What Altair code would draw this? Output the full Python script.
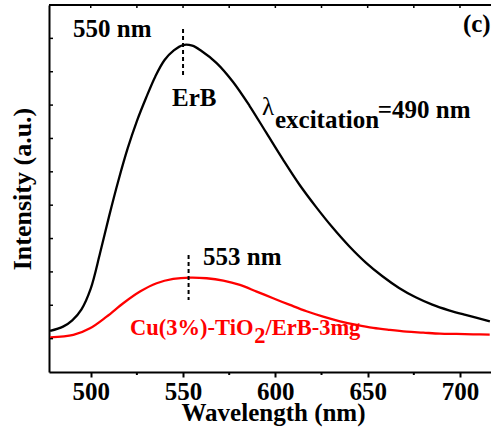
import altair as alt
import pandas as pd

FONT = "'Liberation Serif', 'Times New Roman', Times, 'DejaVu Serif', serif"

# ---- data ----
black_nm = [478, 485, 490, 495, 500, 505, 510, 515, 520, 525, 530, 535, 540, 545,
            550, 555, 560, 568.2, 577, 586, 595, 604, 613, 622, 631, 640, 649,
            658, 667, 676, 685, 694, 703, 716.2]
black_int = [1.23, 1.36, 1.55, 1.88, 2.50, 3.55, 4.68, 5.74, 6.70, 7.52, 8.22, 8.86,
             9.35, 9.64, 9.80, 9.78, 9.62, 9.26, 8.70, 7.98, 7.18, 6.38, 5.62, 4.95,
             4.33, 3.77, 3.28, 2.87, 2.52, 2.24, 2.02, 1.85, 1.71, 1.52]

red_nm = [478.0, 490.6, 499.6, 508.6, 517.6, 526.7, 535.7, 544.7, 553.7, 562.8,
          571.8, 580.8, 589.9, 598.8, 607.9, 616.9, 625.9, 635.0, 644.0, 653.0,
          662.0, 671.1, 680.1, 689.1, 698.1, 707.1, 716.1]
red_int = [1.04, 1.11, 1.31, 1.66, 2.06, 2.41, 2.66, 2.79, 2.83, 2.81,
           2.74, 2.61, 2.41, 2.21, 2.01, 1.82, 1.66, 1.52, 1.41, 1.32,
           1.26, 1.21, 1.18, 1.15, 1.14, 1.13, 1.12]

x_major = [500, 550, 600, 650, 700]
x_minor = [525, 575, 625, 675]
y_ticks = [1, 2, 3, 4, 5, 6, 7, 8, 9, 10]

peak_nm = [550, 553]
peak_top = [10.28, 3.51]
peak_bottom = [8.90, 2.16]

anno_text = ["550 nm", "ErB", "(c)", "=490 nm", "553 nm", "excitation"]
anno_nm = [490.4, 544.0, 701.6, 655.5, 560.8, 599.8]
anno_val = [10.04, 7.97, 10.19, 7.61, 3.21, 7.31]

red_text = ["Cu(3%)-TiO", "2", "/ErB-3mg"]
red_nm_pos = [521.3, 588.6, 594.6]
red_val = [1.11, 0.87, 1.11]

lambda_text = ["λ"]
lambda_nm = [592.7]
lambda_val = [7.70]

W, H = 442, 367
xs = alt.Scale(domain=[477.4, 716.8], nice=False, zero=False)
ys = alt.Scale(domain=[0, 11], nice=False, zero=False)

curves = pd.concat([
    pd.DataFrame({"nm": black_nm, "v": black_int, "s": "ErB"}),
    pd.DataFrame({"nm": red_nm, "v": red_int, "s": "Cu"}),
])

x_axis = alt.Axis(values=x_major, format="d", labelFont=FONT, labelFontSize=25,
                  labelFontWeight="bold", labelColor="black", labelPadding=2,
                  labelFlush=False, tickSize=5, tickWidth=2, tickColor="black",
                  domainColor="black", domainWidth=2, grid=False,
                  title="Wavelength (nm)", titleFont=FONT, titleFontSize=25,
                  titleFontWeight="bold", titleColor="black", titleX=224, titleY=48,
                  titleBaseline="alphabetic", titleAlign="center")
y_axis = alt.Axis(labels=False, ticks=False, domainColor="black", domainWidth=2,
                  grid=False, title="Intensity (a.u.)", titleFont=FONT,
                  titleFontSize=26, titleFontWeight="bold", titleColor="black",
                  titleX=-19, titleY=H / 2, titleAngle=270, titleAlign="center",
                  titleBaseline="alphabetic")

lines = alt.Chart(curves).mark_line(strokeWidth=2.3, interpolate="catmull-rom").encode(
    x=alt.X("nm:Q", scale=xs, axis=x_axis),
    y=alt.Y("v:Q", scale=ys, axis=y_axis),
    color=alt.Color("s:N", scale=alt.Scale(domain=["ErB", "Cu"], range=["black", "#ff0000"]), legend=None),
    detail="s:N",
)

top_line = alt.Chart(pd.DataFrame({"a": [0]})).mark_rule(color="black", strokeWidth=2).encode(
    x=alt.value(0), x2=alt.value(W), y=alt.value(0))

minor_bottom = alt.Chart(pd.DataFrame({"t": x_minor})).mark_rule(color="black", strokeWidth=2).encode(
    x=alt.X("t:Q", scale=xs), y=alt.value(H), y2=alt.value(H + 3))

top_ticks = alt.Chart(pd.DataFrame({"t": x_major + x_minor})).mark_rule(color="black", strokeWidth=1.5).encode(
    x=alt.X("t:Q", scale=xs), y=alt.value(0), y2=alt.value(3))

left_ticks = alt.Chart(pd.DataFrame({"t": y_ticks})).mark_rule(color="black", strokeWidth=1.5).encode(
    y=alt.Y("t:Q", scale=ys), x=alt.value(0), x2=alt.value(4))

dashes = alt.Chart(pd.DataFrame({"nm": peak_nm, "a": peak_top, "b": peak_bottom})).mark_rule(
    color="black", strokeWidth=2, strokeDash=[4, 3]).encode(
    x=alt.X("nm:Q", scale=xs), y=alt.Y("a:Q", scale=ys), y2="b:Q")

annos = alt.Chart(pd.DataFrame({"t": anno_text, "nm": anno_nm, "v": anno_val})).mark_text(
    font=FONT, fontSize=25, fontWeight="bold", align="left", baseline="alphabetic", color="black").encode(
    x=alt.X("nm:Q", scale=xs), y=alt.Y("v:Q", scale=ys), text="t:N")

red_annos = alt.Chart(pd.DataFrame({"t": red_text, "nm": red_nm_pos, "v": red_val})).mark_text(
    font=FONT, fontSize=22.5, fontWeight="bold", align="left", baseline="alphabetic", color="#ff0000").encode(
    x=alt.X("nm:Q", scale=xs), y=alt.Y("v:Q", scale=ys), text="t:N")

lam = alt.Chart(pd.DataFrame({"t": lambda_text, "nm": lambda_nm, "v": lambda_val})).mark_text(
    font=FONT, fontSize=25, align="left", baseline="alphabetic", color="black").encode(
    x=alt.X("nm:Q", scale=xs), y=alt.Y("v:Q", scale=ys), text="t:N")

chart = alt.layer(lines, top_line, minor_bottom, top_ticks, left_ticks, dashes, annos, red_annos, lam).properties(
    width=W, height=H,
    autosize=alt.AutoSizeParams(type="none"),
    padding={"left": 49, "top": 5, "right": 0, "bottom": 57},
    background="white",
).configure_view(stroke=None)

chart.save("out.html", embed_options={"renderer": "svg", "actions": False})
